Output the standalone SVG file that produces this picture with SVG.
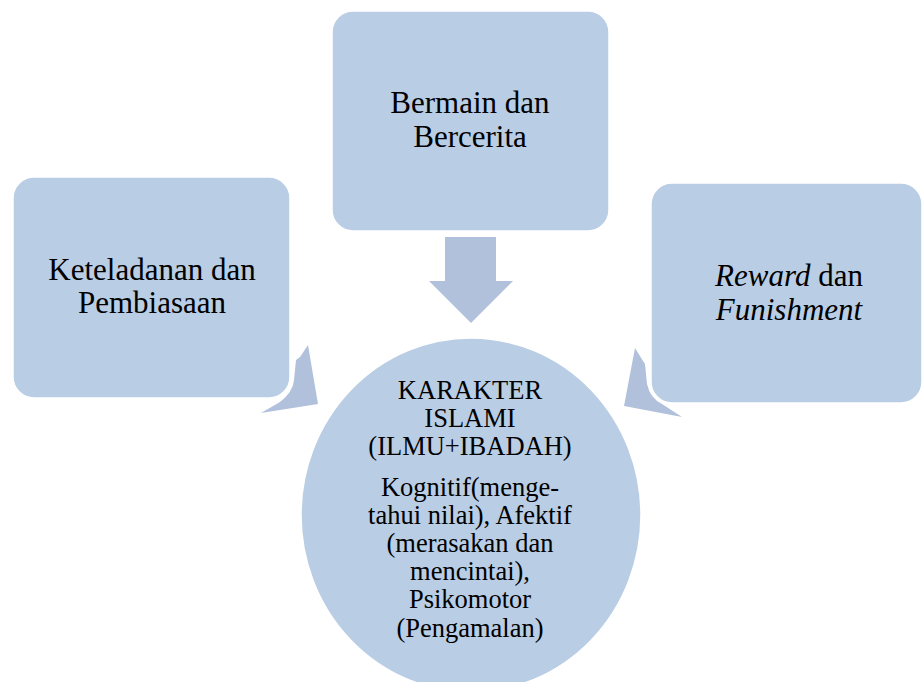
<svg xmlns="http://www.w3.org/2000/svg" width="922" height="682" viewBox="0 0 922 682">
  <style>
    .shape { fill: #B9CDE5; stroke: #FFFFFF; stroke-width: 1.5; }
    .arrow { fill: #B1C1DC; stroke: none; }
    .box-text { font-family: 'Liberation Serif', 'DejaVu Serif', serif; font-size: 31px; fill: #000000; text-anchor: middle; }
    .circle-text { font-family: 'Liberation Serif', 'DejaVu Serif', serif; font-size: 26.5px; fill: #000000; text-anchor: middle; }
    .it { font-style: italic; }
  </style>
  <rect width="922" height="682" fill="#FFFFFF"/>

  <g id="connectors">
    <polygon class="arrow" points="445,237 496,237 496,281 513,281 471,323 429,281 445,281"/>
    <path class="arrow" d="M308,345 L318,404 L261,413 L280,402 Q293,392 294,380 L296,360 L300,357 Z"/>
    <path class="arrow" d="M635,348 L643,361 L645,364 L647,384 Q650,398 662,404 L682,417 L624,406 Z"/>
  </g>

  <g id="node-top">
    <rect class="shape" x="332" y="11" width="277" height="220" rx="21" ry="21"/>
    <text class="box-text" x="470" y="113">Bermain dan</text>
    <text class="box-text" x="470" y="147">Bercerita</text>
  </g>

  <g id="node-left">
    <rect class="shape" x="13" y="177" width="277" height="221" rx="21" ry="21"/>
    <text class="box-text" x="152" y="280">Keteladanan dan</text>
    <text class="box-text" x="152" y="313">Pembiasaan</text>
  </g>

  <g id="node-right">
    <rect class="shape" x="651" y="183" width="271" height="220" rx="21" ry="21"/>
    <text class="box-text" x="789" y="286"><tspan class="it">Reward</tspan> dan</text>
    <text class="box-text it" x="789" y="320">Funishment</text>
  </g>

  <g id="node-center">
    <ellipse class="shape" cx="471" cy="515" rx="170" ry="177"/>
    <text class="circle-text" x="470" y="399">KARAKTER</text>
    <text class="circle-text" x="470" y="427">ISLAMI</text>
    <text class="circle-text" x="470" y="455">(ILMU+IBADAH)</text>
    <text class="circle-text" x="470" y="496">Kognitif(menge-</text>
    <text class="circle-text" x="470" y="524">tahui nilai), Afektif</text>
    <text class="circle-text" x="470" y="552">(merasakan dan</text>
    <text class="circle-text" x="470" y="580">mencintai),</text>
    <text class="circle-text" x="470" y="608">Psikomotor</text>
    <text class="circle-text" x="470" y="637">(Pengamalan)</text>
  </g>
</svg>
